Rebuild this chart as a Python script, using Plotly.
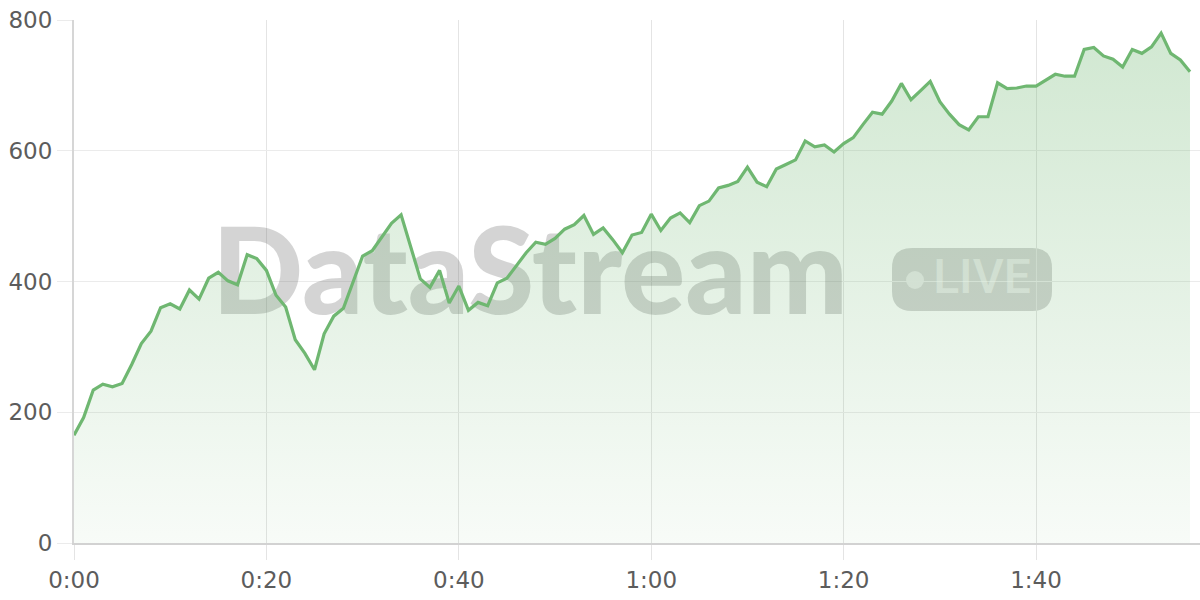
import plotly.graph_objects as go

# ---- data ----
seconds = list(range(117))
values = [165, 192, 234, 243, 239, 244, 273, 305, 324, 360,
          366, 358, 387, 373, 405, 414, 401, 395, 441, 435,
          417, 379, 361, 311, 290, 265, 320, 347, 359, 398,
          439, 447, 468, 489, 502, 453, 404, 391, 417, 367,
          393, 356, 368, 363, 398, 405, 425, 444, 460, 457,
          466, 480, 487, 501, 472, 482, 464, 444, 471, 475,
          503, 478, 497, 505, 490, 516, 523, 543, 547, 553,
          575, 552, 545, 572, 579, 586, 615, 606, 609, 598,
          611, 620, 640, 659, 656, 676, 703, 678, 692, 706,
          675, 656, 640, 632, 652, 652, 704, 695, 696, 699,
          699, 708, 717, 714, 714, 755, 758, 745, 740, 728,
          755, 749, 759, 780, 749, 739, 721]
x_tick_vals = [0, 20, 40, 60, 80, 100]
x_tick_text = ["0:00", "0:20", "0:40", "1:00", "1:20", "1:40"]
y_tick_vals = [0, 200, 400, 600, 800]
watermark_text = "DataStream"
badge_text = "LIVE"

# ---- layout geometry (page body margin removed in post_script) ----
W, H = 1200, 600
ML, MR, MT, MB = 74, 0, 20, 57
X_MAX = 117.04
Y_MAX = 800
PW = W - ML - MR
PH = H - MT - MB


def px_x(px):
    return (px - ML) / PW


def px_y(py):
    return (H - MB - py) / PH


def data_x(px):
    return px_x(px) * X_MAX


def data_y(py):
    return px_y(py) * Y_MAX


LINE = "#6fb771"
TICK_FONT = dict(family="DejaVu Sans", size=23, color="#5c5c5c")
WM_COLOR = "rgba(95,95,95,0.27)"

fig = go.Figure()

# watermark text (under the data)
fig.add_trace(go.Scatter(
    x=[data_x(530)], y=[data_y(284)], mode="text", text=[watermark_text],
    textposition="middle center",
    textfont=dict(family="Lato", size=120, color=WM_COLOR, weight=900),
    hoverinfo="skip", showlegend=False,
))
fig.add_trace(go.Scatter(
    x=[data_x(982)], y=[data_y(281)], mode="text", text=[badge_text],
    textposition="middle center",
    textfont=dict(family="Roboto", size=48, color="rgba(255,255,255,0.5)", weight=500),
    hoverinfo="skip", showlegend=False,
))

# main area series
fig.add_trace(go.Scatter(
    x=seconds, y=values, mode="lines",
    line=dict(color=LINE, width=3.2),
    fill="tozeroy",
    fillgradient=dict(
        type="vertical",
        start=0, stop=Y_MAX,
        colorscale=[[0, "rgba(108,181,110,0.05)"], [1, "rgba(108,181,110,0.32)"]],
    ),
    hoverinfo="skip", showlegend=False,
))

# badge (rounded rect) and dot
bx0, bx1, by0, by1, r = 892, 1052, 248, 311, 20
rx, ry = r / PW, r / PH
X0, X1 = px_x(bx0), px_x(bx1)
Ytop, Ybot = px_y(by0), px_y(by1)
path = (f"M {X0+rx},{Ytop} L {X1-rx},{Ytop} Q {X1},{Ytop} {X1},{Ytop-ry} "
        f"L {X1},{Ybot+ry} Q {X1},{Ybot} {X1-rx},{Ybot} "
        f"L {X0+rx},{Ybot} Q {X0},{Ybot} {X0},{Ybot+ry} "
        f"L {X0},{Ytop-ry} Q {X0},{Ytop} {X0+rx},{Ytop} Z")
shapes = [
    dict(type="path", path=path, xref="paper", yref="paper",
         fillcolor=WM_COLOR, line=dict(width=0), layer="below"),
    dict(type="circle", xref="paper", yref="paper",
         x0=px_x(906), x1=px_x(924), y0=px_y(289), y1=px_y(271),
         fillcolor="rgba(255,255,255,0.5)", line=dict(width=0), layer="below"),
]

fig.update_layout(
    width=W, height=H,
    margin=dict(l=ML, r=MR, t=MT, b=MB, pad=0),
    paper_bgcolor="white", plot_bgcolor="white",
    shapes=shapes,
    hovermode=False,
    xaxis=dict(
        range=[0, X_MAX], tickvals=x_tick_vals, ticktext=x_tick_text,
        showgrid=True, gridcolor="#e4e4e4", gridwidth=1,
        ticks="outside", ticklen=15, tickcolor="#e4e4e4", tickwidth=1,
        showline=True, linecolor="#d2d2d2", linewidth=2,
        zeroline=False, tickfont=TICK_FONT, fixedrange=True,
    ),
    yaxis=dict(
        range=[0, Y_MAX], tickvals=y_tick_vals,
        showgrid=True, gridcolor="#ebebeb", gridwidth=1,
        ticks="outside", ticklen=15, tickcolor="#ebebeb", tickwidth=1,
        showline=True, linecolor="#d6d6d6", linewidth=2,
        zeroline=False, tickfont=TICK_FONT, fixedrange=True,
    ),
)

fig.write_html(
    "out.html",
    config={"displayModeBar": False, "staticPlot": True},
    post_script="document.body.style.margin='0';document.body.style.padding='0';",
)
